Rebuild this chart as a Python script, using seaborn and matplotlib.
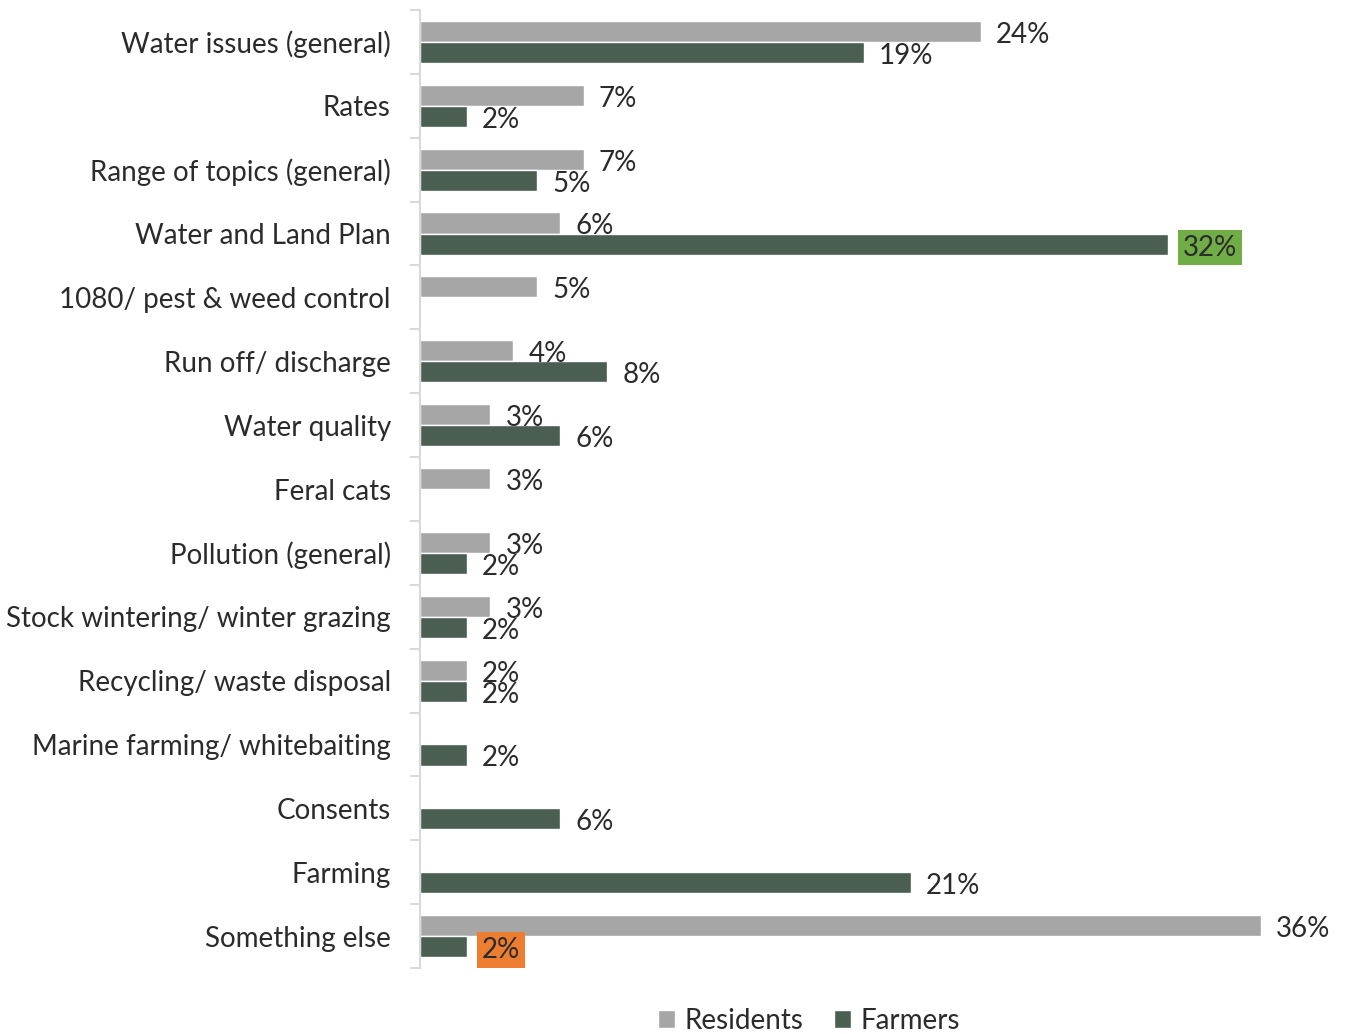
import numpy as np
import pandas as pd
import matplotlib
matplotlib.use("Agg")
import matplotlib.pyplot as plt
import seaborn as sns

# Survey topics and share of mentions (%) for each group
categories = [
    "Water issues (general)",
    "Rates",
    "Range of topics (general)",
    "Water and Land Plan",
    "1080/ pest & weed control",
    "Run off/ discharge",
    "Water quality",
    "Feral cats",
    "Pollution (general)",
    "Stock wintering/ winter grazing",
    "Recycling/ waste disposal",
    "Marine farming/ whitebaiting",
    "Consents",
    "Farming",
    "Something else",
]
residents = [24, 7, 7, 6, 5, 4, 3, 3, 3, 3, 2, None, None, None, 36]
farmers = [19, 2, 5, 32, None, 8, 6, None, 2, 2, 2, 2, 6, 21, 2]
groups = ["Residents", "Farmers"]

# Labels given a highlighted background: (group, category) -> colour
highlights = {
    ("Farmers", "Water and Land Plan"): "#70ad47",
    ("Farmers", "Something else"): "#ed7d31",
}

rows = []
for cat, r, f in zip(categories, residents, farmers):
    if r is not None:
        rows.append({"Topic": cat, "Group": "Residents", "Share": r})
    if f is not None:
        rows.append({"Topic": cat, "Group": "Farmers", "Share": f})
df = pd.DataFrame(rows)

sns.set_theme(style="white")
plt.rcParams["font.family"] = ["Lato", "DejaVu Sans"]
text_color = "#2b2b2b"
fs = 20

fig = plt.figure(figsize=(13.45, 10.34), dpi=100)
ax = fig.add_axes([420 / 1345, 1 - 968 / 1034, 900 / 1345, 958 / 1034])

palette = {"Residents": "#a6a6a6", "Farmers": "#4a5e52"}
sns.barplot(
    data=df, y="Topic", x="Share", hue="Group", order=categories,
    hue_order=groups, palette=palette, orient="h", width=0.66,
    saturation=1, ax=ax, legend=True, errorbar=None,
)

ax.set_xlim(0, 900 / 23.36)
ax.set_ylim(len(categories) - 0.5, -0.5)
ax.set_xlabel("")
ax.set_ylabel("")
ax.set_xticks([])

for side in ["top", "right", "bottom"]:
    ax.spines[side].set_visible(False)
ax.spines["left"].set_color("#d9d9d9")
ax.spines["left"].set_linewidth(1.5)

# Category labels, with boundary tick marks between categories
ax.tick_params(axis="y", which="major", length=0, pad=21,
               labelsize=fs, labelcolor=text_color)
ax.set_yticks(np.arange(-0.5, len(categories), 1.0), minor=True)
ax.tick_params(axis="y", which="minor", length=7.5, width=1.5,
               color="#d9d9d9", left=True)

# Value labels at the end of each bar
for container, group in zip(ax.containers, groups):
    texts = ax.bar_label(
        container,
        labels=[f"{b.get_width():.0f}%" for b in container],
        padding=11, fontsize=fs, color=text_color,
    )
    for bar, txt in zip(container, texts):
        txt.xyann = (11, -2.5)
        cat = categories[int(round(bar.get_y() + bar.get_height() / 2))]
        color = highlights.get((group, cat))
        if color:
            txt.set_bbox(dict(facecolor=color, edgecolor="none", pad=3.5))

leg = ax.legend(
    loc="center", bbox_to_anchor=(0.6015, 0.0126),
    bbox_transform=fig.transFigure, ncol=2, frameon=False,
    fontsize=fs, handlelength=0.62, handleheight=0.62,
    handletextpad=0.35, columnspacing=1.1,
)
for t in leg.get_texts():
    t.set_color(text_color)

fig.savefig("out.png", dpi=100)
